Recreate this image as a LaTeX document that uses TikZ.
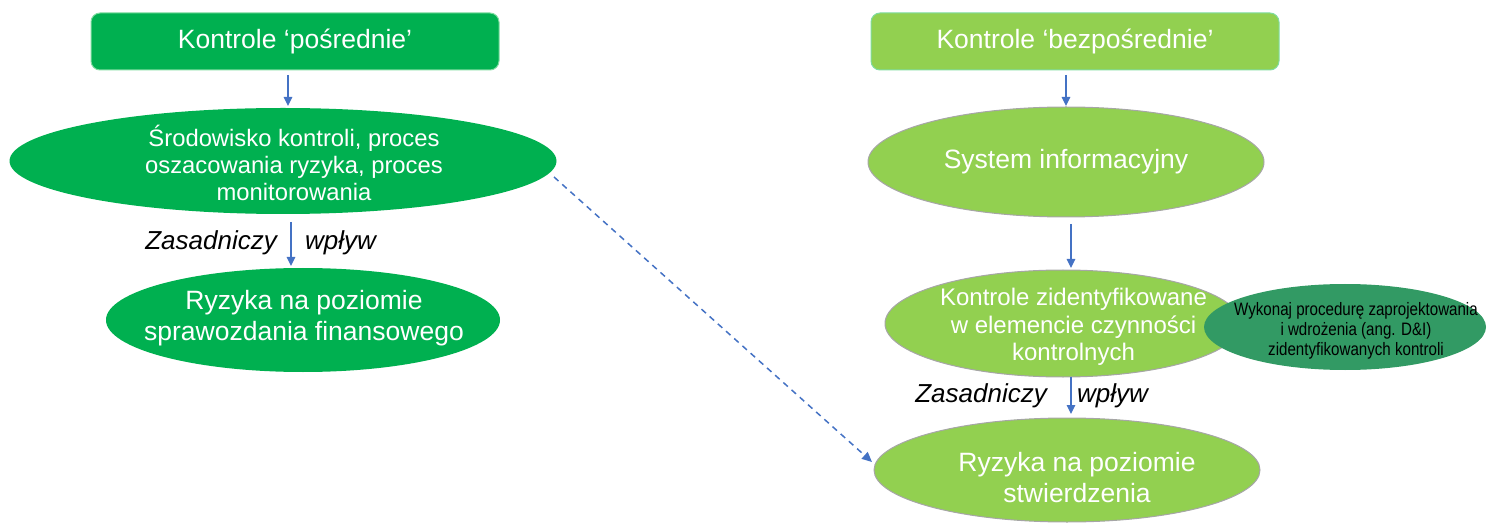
\documentclass[tikz,border=0pt]{standalone}
\usepackage{fontspec}
\setmainfont{Liberation Sans}
\newfontfamily\narrowfont[FakeStretch=0.84]{Liberation Sans}
\usetikzlibrary{shapes.geometric,arrows.meta}
\definecolor{dkgreen}{HTML}{00B050}
\definecolor{ltgreen}{HTML}{92D050}
\definecolor{midgreen}{HTML}{329A64}
\definecolor{arrowblue}{HTML}{4472C4}
\definecolor{edgegray}{HTML}{A6A6A6}
\definecolor{boxedge}{HTML}{7FDCA0}
\tikzset{
  topbox/.style={rectangle, rounded corners=9pt, minimum width=408pt, minimum height=57pt, inner sep=0pt, text=white, font=\fontsize{26.5}{30}\selectfont},
  ell/.style={ellipse, inner sep=0pt},
  txt/.style={inner sep=0pt, text=white, align=center},
  flow/.style={draw=arrowblue, line width=1.3pt, -{Triangle[length=9pt,width=8.5pt]}},
  dflow/.style={draw=arrowblue, line width=1.5pt, dash pattern=on 6pt off 5pt, -{Triangle[length=10pt,width=9pt]}},
  lbl/.style={font=\fontsize{26}{30}\selectfont\itshape, text=black, inner sep=0pt}
}
\begin{document}
\begin{tikzpicture}[x=1pt,y=-1pt]
\useasboundingbox (0,0) rectangle (1487,526);
% left column
\node[topbox, fill=dkgreen, draw=boxedge, line width=1pt] (b1) at (295,41.5) {Kontrole ‘pośrednie’};
\node[ell, fill=dkgreen, minimum width=547pt, minimum height=106pt] (e1) at (283,161) {};
\node[txt, font=\fontsize{23.8}{27}\selectfont] (t1) at (294,163) {Środowisko kontroli, proces\\oszacowania ryzyka, proces\\monitorowania};
\node[ell, fill=dkgreen, minimum width=394pt, minimum height=104pt] (e2) at (303,320) {};
\node[txt, font=\fontsize{26.5}{31}\selectfont] (t2) at (304,318) {Ryzyka na poziomie\\sprawozdania finansowego};
\coordinate (a1s) at (288,75);
\coordinate (a1e) at (288,106);
\draw[flow] (a1s) -- (a1e);
\coordinate (a2s) at (291,222);
\coordinate (a2e) at (291,266);
\draw[flow] (a2s) -- (a2e);
\node[lbl, anchor=east] (z1) at (277,243) {Zasadniczy};
\node[lbl, anchor=west] (w1) at (305,243) {wpływ};
% right column
\node[topbox, fill=ltgreen, draw=boxedge, line width=1pt] (b2) at (1075,41.5) {Kontrole ‘bezpośrednie’};
\node[ell, fill=ltgreen, draw=edgegray, line width=1pt, minimum width=396pt, minimum height=110pt] (e3) at (1066,162) {};
\node[txt, font=\fontsize{26.5}{31}\selectfont] (t3) at (1066,162) {System informacyjny};
\node[ell, fill=ltgreen, draw=edgegray, line width=1pt, minimum width=356pt, minimum height=107pt] (e4) at (1063,323.5) {};
\node[txt, font=\fontsize{24}{27.5}\selectfont] (t4) at (1073.5,327) {Kontrole zidentyfikowane\\w elemencie czynności\\kontrolnych};
\node[ell, fill=midgreen, minimum width=282pt, minimum height=86pt] (e5) at (1345,327) {};
\node[txt, text=black, font=\narrowfont\fontsize{18}{20}\selectfont] (t5) at (1356,331) {Wykonaj procedurę zaprojektowania\\i wdrożenia (ang. D\&I)\\zidentyfikowanych kontroli};
\node[ell, fill=ltgreen, draw=edgegray, line width=1pt, minimum width=386pt, minimum height=104pt] (e6) at (1067,470) {};
\node[txt, font=\fontsize{26.5}{31}\selectfont] (t6) at (1077,478) {Ryzyka na poziomie\\stwierdzenia};
\coordinate (a3s) at (1066,75);
\coordinate (a3e) at (1066,106);
\draw[flow] (a3s) -- (a3e);
\coordinate (a4s) at (1071,224);
\coordinate (a4e) at (1071,268);
\draw[flow] (a4s) -- (a4e);
\coordinate (a5s) at (1071,377);
\coordinate (a5e) at (1071,414);
\draw[flow] (a5s) -- (a5e);
\node[lbl, anchor=east] (z2) at (1047,396) {Zasadniczy};
\node[lbl, anchor=west] (w2) at (1077,396) {wpływ};
% dashed cross link
\coordinate (ds) at (554,177);
\coordinate (de) at (872,462);
\draw[dflow] (ds) -- (de);
\end{tikzpicture}
\end{document}
